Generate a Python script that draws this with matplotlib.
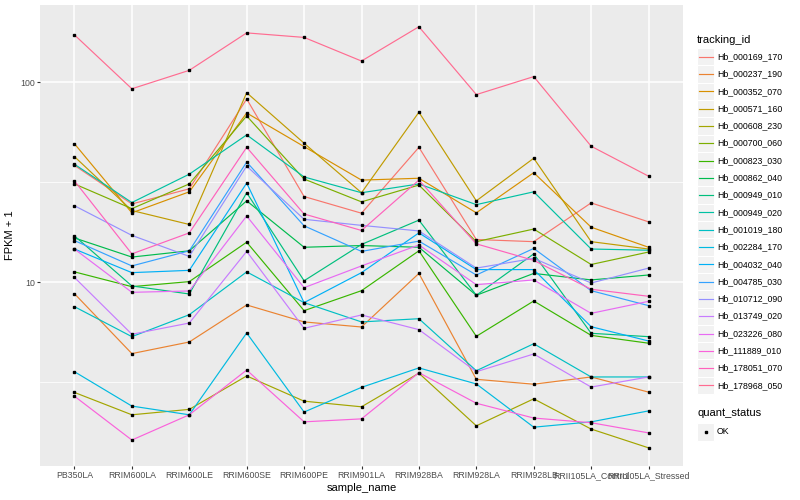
import matplotlib
matplotlib.use("Agg")
import matplotlib.pyplot as plt
from matplotlib.lines import Line2D
from matplotlib.patches import Rectangle
from matplotlib.ticker import FixedLocator, NullFormatter

plt.rcParams["font.family"] = ["Liberation Sans", "DejaVu Sans"]

samples = [
    "PB350LA", "RRIM600LA", "RRIM600LE", "RRIM600SE", "RRIM600PE", "RRIM901LA",
    "RRIM928BA", "RRIM928LA", "RRIM928LB", "RRII105LA_Control", "RRII105LA_Stressed",
]

tracking_ids = [
    "Hb_000169_170", "Hb_000237_190", "Hb_000352_070", "Hb_000571_160",
    "Hb_000608_230", "Hb_000700_060", "Hb_000823_030", "Hb_000862_040",
    "Hb_000949_010", "Hb_000949_020", "Hb_001019_180", "Hb_002284_170",
    "Hb_004032_040", "Hb_004785_030", "Hb_010712_090", "Hb_013749_020",
    "Hb_023226_080", "Hb_111889_010", "Hb_178051_070", "Hb_178968_050",
]

# ggplot default hue palette for 20 levels
colors = [
    "#F8766D", "#EA8331", "#D89000", "#C09B00", "#A3A500", "#7CAE00", "#39B600",
    "#00BB4E", "#00BF7D", "#00C1A3", "#00BFC4", "#00BAE0", "#00B0F6", "#35A2FF",
    "#9590FF", "#C77CFF", "#E76BF3", "#FA62DB", "#FF62BC", "#FF6C91",
]

# FPKM + 1, one list per tracking_id, in sample order
hb_000169_170 = [38.5, 24.7, 29.4, 82.7, 26.9, 22.2, 47.4, 16.4, 16.0, 25.0, 20.1]
hb_000237_190 = [8.79, 4.41, 5.04, 7.72, 6.35, 5.99, 11.1, 3.28, 3.10, 3.37, 2.83]
hb_000352_070 = [49.4, 22.3, 28.4, 70.4, 47.8, 32.5, 33.2, 22.3, 35.4, 18.9, 15.0]
hb_000571_160 = [42.6, 22.9, 19.5, 88.9, 49.7, 28.1, 71.0, 25.6, 41.8, 16.0, 14.7]
hb_000608_230 = [2.82, 2.18, 2.32, 3.41, 2.55, 2.39, 3.52, 1.92, 2.62, 1.85, 1.49]
hb_000700_060 = [31.1, 23.4, 31.1, 68.0, 32.9, 25.3, 30.7, 16.0, 18.5, 12.3, 14.2]
hb_000823_030 = [11.3, 9.53, 10.1, 15.9, 7.23, 9.10, 14.4, 5.38, 8.08, 5.44, 4.97]
hb_000862_040 = [16.7, 13.4, 14.4, 25.6, 15.0, 15.3, 15.0, 8.63, 11.1, 10.3, 10.9]
hb_000949_010 = [17.1, 9.61, 8.76, 28.1, 10.2, 15.5, 20.5, 8.63, 13.9, 5.57, 5.36]
hb_000949_020 = [39.0, 25.1, 34.8, 54.7, 33.7, 28.1, 31.1, 24.5, 28.4, 14.7, 14.5]
hb_001019_180 = [7.57, 5.36, 6.90, 11.3, 7.93, 6.35, 6.59, 3.62, 4.94, 3.37, 3.37]
hb_002284_170 = [3.58, 2.41, 2.18, 5.59, 2.25, 2.99, 3.74, 3.11, 1.89, 2.01, 2.28]
hb_004032_040 = [14.7, 11.2, 11.5, 31.4, 7.93, 11.2, 17.7, 11.6, 11.6, 6.01, 5.10]
hb_004785_030 = [16.2, 12.1, 14.4, 40.0, 19.2, 14.3, 16.1, 10.9, 14.8, 9.10, 7.66]
hb_010712_090 = [24.2, 17.2, 13.5, 38.2, 20.7, 19.3, 18.1, 11.8, 13.2, 9.94, 11.8]
hb_013749_020 = [10.6, 5.51, 6.27, 14.3, 5.90, 6.88, 5.81, 3.58, 4.39, 3.00, 3.37]
hb_023226_080 = [14.7, 8.93, 9.07, 21.5, 9.42, 12.1, 15.4, 9.75, 10.3, 7.01, 8.05]
hb_111889_010 = [2.70, 1.63, 2.18, 3.65, 2.01, 2.08, 3.54, 2.49, 2.10, 1.99, 1.77]
hb_178051_070 = [32.2, 13.9, 17.7, 47.4, 22.0, 18.2, 32.5, 15.6, 12.9, 9.25, 8.53]
hb_178968_050 = [173, 93, 115, 177, 168, 128, 190, 87, 107, 48, 34]

series = [
    hb_000169_170, hb_000237_190, hb_000352_070, hb_000571_160, hb_000608_230,
    hb_000700_060, hb_000823_030, hb_000862_040, hb_000949_010, hb_000949_020,
    hb_001019_180, hb_002284_170, hb_004032_040, hb_004785_030, hb_010712_090,
    hb_013749_020, hb_023226_080, hb_111889_010, hb_178051_070, hb_178968_050,
]

W, H = 800, 500


def fx(px):
    return px / W


def fy(py):
    return 1 - py / H


fig = plt.figure(figsize=(W / 100, H / 100), dpi=100)
ax = fig.add_axes([fx(40), fy(466), (683 - 40) / W, (466 - 5) / H])
ax.set_facecolor("#EBEBEB")

x = list(range(len(samples)))
for vals, col in zip(series, colors):
    ax.plot(x, vals, color=col, lw=0.85, zorder=2)
for vals in series:
    ax.plot(x, vals, ls="none", marker="s", ms=2.0, color="black", zorder=3)

ax.set_yscale("log")
ax.set_ylim(1.209, 244)
ax.set_xlim(-0.6, len(samples) - 0.4)

ax.set_xticks(x)
ax.set_xticklabels(samples, fontsize=6.3, color="#4D4D4D")
ax.set_yticks([10, 100])
ax.set_yticklabels(["10", "100"], fontsize=6.3, color="#4D4D4D")
ax.yaxis.set_minor_locator(FixedLocator([10 ** 0.5, 10 ** 1.5]))
ax.yaxis.set_minor_formatter(NullFormatter())
ax.tick_params(which="minor", length=0)
ax.tick_params(which="major", length=2.0, width=0.8, color="#333333", pad=1.5)
ax.grid(which="major", color="white", lw=1.1)
ax.grid(which="minor", axis="y", color="white", lw=0.55)
ax.set_axisbelow(True)
for s in ax.spines.values():
    s.set_visible(False)

ax.set_xlabel("sample_name", fontsize=8, labelpad=2)
ax.set_ylabel("FPKM + 1", fontsize=8, labelpad=4)

# legend: tracking_id
fig.text(fx(697), fy(40), "tracking_id", fontsize=8, va="center", ha="left")
key = 17.28
for i, (tid, col) in enumerate(zip(tracking_ids, colors)):
    cy = 56.7 + i * 17.3
    fig.add_artist(Rectangle((fx(697), fy(cy + key / 2)), key / W, key / H,
                             transform=fig.transFigure, facecolor="#F2F2F2",
                             edgecolor="white", lw=0.8))
    fig.add_artist(Line2D([fx(698.5), fx(697 + key - 1.5)], [fy(cy), fy(cy)],
                          transform=fig.transFigure, color=col, lw=0.85))
    fig.text(fx(717), fy(cy), tid, fontsize=6.3, va="center", ha="left")

# legend: quant_status
fig.text(fx(697), fy(413), "quant_status", fontsize=8, va="center", ha="left")
fig.add_artist(Rectangle((fx(697), fy(432 + key / 2)), key / W, key / H,
                         transform=fig.transFigure, facecolor="#F2F2F2",
                         edgecolor="white", lw=0.8))
fig.add_artist(Line2D([fx(697 + key / 2)], [fy(432)], transform=fig.transFigure,
                      ls="none", marker="s", ms=2.0, color="black"))
fig.text(fx(717), fy(432), "OK", fontsize=6.3, va="center", ha="left")

fig.savefig("out.png", dpi=100)
